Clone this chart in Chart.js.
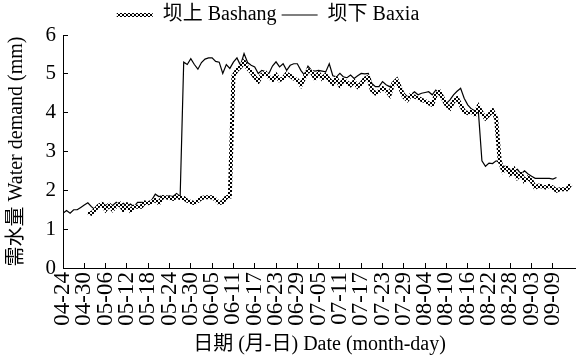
<!DOCTYPE html>
<html>
<head>
<meta charset="utf-8">
<script src="https://cdn.jsdelivr.net/npm/chart.js@4"></script>
<style>
  body { margin: 0; background: #fff; }
</style>
</head>
<body>
<canvas id="demand-chart" width="576" height="357"></canvas>
<script>
// tick labels, one every 6 days starting 04-24
const dateTicks = ['04-24','04-30','05-06','05-12','05-18','05-24','05-30','06-05',
  '06-11','06-17','06-23','06-29','07-05','07-11','07-17','07-23','07-29','08-04',
  '08-10','08-16','08-22','08-28','09-03','09-09'];

// 坝上 Bashang, daily values (mm) from 04-24, first week missing
const bashang = [null, null, null, null, null, null, null,
  1.44, 1.40, 1.50, 1.60, 1.65, 1.50, 1.62, 1.50, 1.60, 1.65,
  1.50, 1.62, 1.48, 1.58, 1.58, 1.58, 1.69, 1.67, 1.70, 1.75,
  1.67, 1.82, 1.82, 1.80, 1.78, 1.84, 1.80, 1.80, 1.73, 1.70,
  1.67, 1.73, 1.80, 1.82, 1.82, 1.82, 1.76, 1.67, 1.70, 1.82,
  1.84, 4.95, 5.10, 5.18, 5.31, 5.15, 5.05, 4.92, 4.81, 4.97,
  5.03, 4.92, 4.84, 4.97, 4.84, 4.88, 5.00, 4.95, 4.88, 4.84,
  4.71, 4.90, 5.09, 5.05, 4.88, 5.01, 4.88, 4.97, 4.85, 4.75,
  4.88, 4.71, 4.84, 4.78, 4.71, 4.80, 4.67, 4.75, 4.88, 4.92,
  4.58, 4.50, 4.55, 4.63, 4.58, 4.46, 4.75, 4.84, 4.63, 4.41,
  4.33, 4.46, 4.41, 4.38, 4.33, 4.30, 4.24, 4.20, 4.46, 4.54,
  4.37, 4.20, 4.12, 4.29, 4.37, 4.20, 4.03, 3.99, 4.03, 3.95,
  4.16, 3.99, 3.86, 3.95, 4.05, 3.86, 2.76, 2.50, 2.59, 2.42,
  2.54, 2.33, 2.42, 2.24, 2.33, 2.24, 2.07, 2.12, 2.10, 2.07,
  2.12, 2.07, 1.99, 2.03, 2.03, 2.03, 2.16];

// 坝下 Baxia, daily values (mm) from 04-24
const baxia = [1.41, 1.48, 1.41, 1.50, 1.50, 1.56, 1.62, 1.68, 1.58, 1.50,
  1.60, 1.67, 1.61, 1.67, 1.61, 1.69, 1.61, 1.67, 1.58, 1.65,
  1.58, 1.69, 1.69, 1.69, 1.69, 1.75, 1.90, 1.84, 1.86, 1.84,
  1.86, 1.84, 1.92, 1.84, 5.30, 5.24, 5.39, 5.24, 5.12, 5.29,
  5.38, 5.41, 5.41, 5.32, 5.30, 5.01, 5.24, 5.14, 5.30, 5.41,
  5.22, 5.52, 5.29, 5.22, 5.18, 5.01, 5.09, 5.06, 5.01, 5.20,
  5.31, 5.18, 5.26, 5.09, 5.22, 5.26, 5.26, 5.09, 4.97, 5.20,
  5.09, 5.07, 5.09, 5.07, 5.05, 5.26, 4.95, 4.92, 5.01, 4.92,
  4.90, 4.97, 4.88, 4.95, 5.01, 5.00, 5.01, 4.75, 4.67, 4.67,
  4.80, 4.72, 4.67, 4.75, 4.84, 4.70, 4.50, 4.41, 4.46, 4.54,
  4.46, 4.50, 4.52, 4.54, 4.46, 4.58, 4.50, 4.30, 4.24, 4.33,
  4.46, 4.55, 4.63, 4.37, 4.20, 4.10, 4.05, 4.03, 2.76, 2.62,
  2.70, 2.69, 2.76, 2.72, 2.63, 2.59, 2.52, 2.50, 2.54, 2.42,
  2.50, 2.42, 2.36, 2.31, 2.31, 2.31, 2.31, 2.31, 2.29, 2.33];

const serif = "'Liberation Serif', 'Noto Sans CJK SC', serif";

// x value = day number counted from 04-24
function toPoints(arr) {
    return arr.map((v, i) => ({ x: i, y: v }));
}

// checkered stroke for the Bashang line (2px cells)
function checkerPattern() {
    const c = document.createElement('canvas');
    c.width = 4; c.height = 4;
    const g = c.getContext('2d');
    g.fillStyle = '#fff';
    g.fillRect(0, 0, 4, 4);
    g.fillStyle = '#000';
    g.fillRect(0, 0, 2, 2);
    g.fillRect(2, 2, 2, 2);
    return g.createPattern(c, 'repeat');
}
const checker = checkerPattern();

// legend in the source sits a bit left of the canvas centre
const shiftLegend = {
    id: 'shiftLegend',
    afterLayout(chart) {
        chart.legend.left -= 20;
        chart.legend.right -= 20;
    }
};

const config = {
    type: 'line',
    data: {
        datasets: [{
            label: '坝上 Bashang',
            data: toPoints(bashang),
            borderColor: checker,
            backgroundColor: checker,
            borderWidth: 4,
            pointRadius: 0,
            tension: 0
        }, {
            label: '坝下 Baxia',
            data: toPoints(baxia),
            borderColor: '#000',
            backgroundColor: '#000',
            borderWidth: 1.2,
            pointRadius: 0,
            tension: 0
        }]
    },
    options: {
        responsive: false,
        animation: false,
        devicePixelRatio: 1,
        layout: { padding: 0 },
        scales: {
            x: {
                type: 'linear',
                min: 0,
                max: 144.5,
                afterBuildTicks: function(scale) {
                    scale.ticks = dateTicks.map((t, i) => ({ value: i * 6 }));
                },
                afterFit: function(scale) {
                    scale.height = 89;
                    scale.paddingLeft = 0;
                    scale.paddingRight = 0;
                },
                ticks: {
                    autoSkip: false,
                    minRotation: 90,
                    maxRotation: 90,
                    padding: 9,
                    color: '#000',
                    font: { family: serif, size: 23 },
                    callback: function(value) {
                        return dateTicks[Math.round(value / 6)];
                    }
                },
                grid: {
                    drawOnChartArea: false,
                    tickLength: -5,
                    color: '#000'
                },
                border: { color: '#000', width: 1 },
                title: {
                    display: true,
                    text: '日期 (月-日) Date (month-day)',
                    color: '#000',
                    font: { family: serif, size: 20 },
                    padding: { top: 0, bottom: 0 }
                }
            },
            y: {
                min: 0,
                max: 6,
                afterFit: function(scale) {
                    scale.width = 63;
                },
                ticks: {
                    stepSize: 1,
                    padding: 12,
                    color: '#000',
                    font: { family: serif, size: 21 }
                },
                grid: {
                    drawOnChartArea: false,
                    tickLength: -5,
                    color: '#000'
                },
                border: { color: '#000', width: 1 },
                title: {
                    display: true,
                    text: '需水量 Water demand (mm)',
                    color: '#000',
                    font: { family: serif, size: 20 },
                    padding: { top: 5, bottom: 0 }
                }
            }
        },
        plugins: {
            legend: {
                position: 'top',
                labels: {
                    usePointStyle: true,
                    pointStyle: 'line',
                    pointStyleWidth: 36,
                    padding: 5,
                    color: '#000',
                    font: { family: serif, size: 20 }
                }
            },
            tooltip: { enabled: false }
        }
    },
    plugins: [shiftLegend]
};

const ctx = document.getElementById('demand-chart').getContext('2d');
const demandChart = new Chart(ctx, config);
</script>
</body>
</html>
